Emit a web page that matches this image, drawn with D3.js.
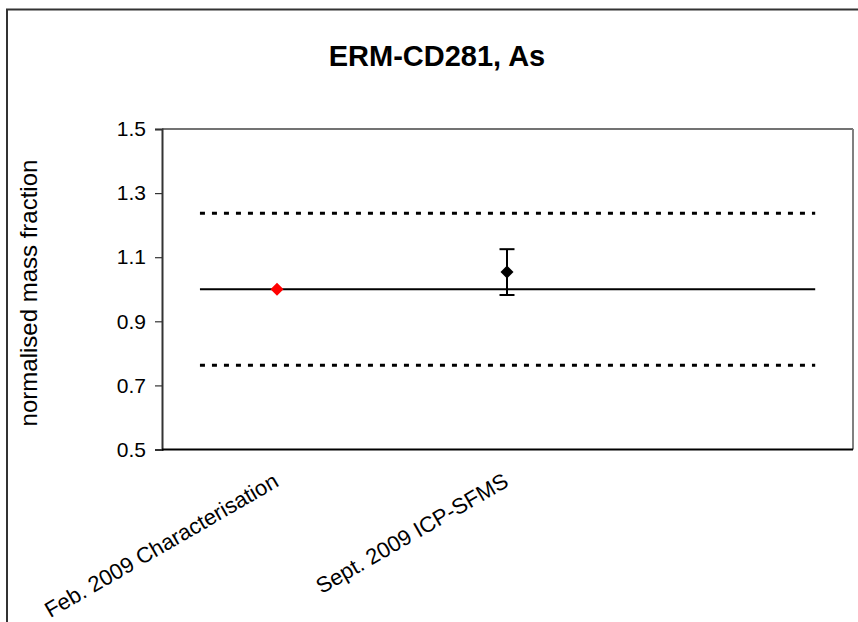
<!DOCTYPE html>
<head>
<meta charset="utf-8">

<!-- Load d3.js -->
<script src="https://d3js.org/d3.v7.min.js"></script>

<title>ERM-CD281, As</title>

<style>
  body { margin: 0; background: #fff; }
  text { font-family: "Liberation Sans", Arial, sans-serif; fill: #000; }
</style>
</head>

<body>
<div id="chart"></div>

<script>

// chart data
var title = "ERM-CD281, As";
var yLabel = "normalised mass fraction";
var categories = ["Feb. 2009 Characterisation", "Sept. 2009 ICP-SFMS", ""];
var values = [1.0, 1.054];
var errLow = [null, 0.982];
var errHigh = [null, 1.125];
var pointColors = ["#ff0000", "#000000"];
var certified = 1.0;
var uncertainty = 0.2375;
var lineSpan = [0.165, 2.84];   // reference lines run between these category positions
var yTicks = [0.5, 0.7, 0.9, 1.1, 1.3, 1.5];

// set the dimensions of the chart
var width = 858,
    height = 622;

var plot = {left: 162, top: 129, right: 852, bottom: 449.5};

var svg = d3.select("#chart")
    .append("svg")
    .attr("width", width)
    .attr("height", height);

// outer chart border, cut off at right and bottom
svg.append("rect")
    .attr("x", 7)
    .attr("y", 9.5)
    .attr("width", 880)
    .attr("height", 640)
    .attr("fill", "none")
    .attr("stroke", "#333")
    .attr("stroke-width", 2);

// scales
var x = d3.scaleLinear()
    .domain([0, categories.length])
    .range([plot.left, plot.right]);

var y = d3.scaleLinear()
    .domain([0.5, 1.5])
    .range([plot.bottom, plot.top]);

// plot area border
svg.append("line")
    .attr("x1", plot.left).attr("x2", plot.right + 1)
    .attr("y1", plot.top).attr("y2", plot.top)
    .attr("stroke", "#444").attr("stroke-width", 1.5);

svg.append("line")
    .attr("x1", plot.right + 1).attr("x2", plot.right + 1)
    .attr("y1", plot.top).attr("y2", plot.bottom)
    .attr("stroke", "#808080").attr("stroke-width", 2);

// title
svg.append("text")
    .attr("x", 437)
    .attr("y", 66)
    .attr("text-anchor", "middle")
    .attr("font-size", 29)
    .attr("font-weight", "bold")
    .text(title);

// y axis
var yAxis = svg.append("g")
    .attr("transform", "translate(" + plot.left + ",0)")
    .call(d3.axisLeft(y).tickValues(yTicks).tickFormat(d3.format(".1f")).tickSize(7).tickPadding(9));

yAxis.select(".domain").attr("stroke", "#333").attr("stroke-width", 2);
yAxis.selectAll(".tick line").attr("stroke", "#333").attr("stroke-width", 1.2);
yAxis.selectAll(".tick text")
    .attr("font-size", 21)
    .attr("font-family", "Liberation Sans, Arial, sans-serif")
    .attr("fill", "#000");

// x axis line
svg.append("line")
    .attr("x1", plot.left).attr("x2", plot.right + 1)
    .attr("y1", plot.bottom).attr("y2", plot.bottom)
    .attr("stroke", "#000").attr("stroke-width", 2);

// category labels, rotated
svg.selectAll(".catlabel")
    .data(categories)
    .enter()
    .append("text")
    .attr("class", "catlabel")
    .attr("text-anchor", "end")
    .attr("font-size", 22)
    .attr("transform", function(d, i) {
        return "translate(" + (x(i + 0.5) + 3) + "," + (plot.bottom + 36) + ") rotate(-30)";
    })
    .text(function(d) { return d; });

// y axis title
svg.append("text")
    .attr("text-anchor", "middle")
    .attr("font-size", 24)
    .attr("transform", "translate(37,293) rotate(-90)")
    .text(yLabel);

// certified value and uncertainty lines
var refLines = [
    {v: certified, dash: null, w: 2},
    {v: certified + uncertainty, dash: "5,7", w: 3},
    {v: certified - uncertainty, dash: "5,7", w: 3}
];

svg.selectAll(".refline")
    .data(refLines)
    .enter()
    .append("line")
    .attr("class", "refline")
    .attr("x1", x(lineSpan[0]))
    .attr("x2", x(lineSpan[1]))
    .attr("y1", function(d) { return y(d.v); })
    .attr("y2", function(d) { return y(d.v); })
    .attr("stroke", "#000")
    .attr("stroke-width", function(d) { return d.w; })
    .attr("stroke-dasharray", function(d) { return d.dash; });

// error bars
var points = values.map(function(v, i) {
    return {i: i, v: v, lo: errLow[i], hi: errHigh[i], color: pointColors[i]};
});

var bars = svg.selectAll(".errbar")
    .data(points.filter(function(d) { return d.lo != null; }))
    .enter()
    .append("g")
    .attr("class", "errbar")
    .attr("stroke", "#000")
    .attr("stroke-width", 2);

bars.append("line")
    .attr("x1", function(d) { return x(d.i + 0.5); })
    .attr("x2", function(d) { return x(d.i + 0.5); })
    .attr("y1", function(d) { return y(d.lo); })
    .attr("y2", function(d) { return y(d.hi); });

bars.selectAll(".cap")
    .data(function(d) { return [{i: d.i, v: d.lo}, {i: d.i, v: d.hi}]; })
    .enter()
    .append("line")
    .attr("class", "cap")
    .attr("x1", function(d) { return x(d.i + 0.5) - 7.5; })
    .attr("x2", function(d) { return x(d.i + 0.5) + 7.5; })
    .attr("y1", function(d) { return y(d.v); })
    .attr("y2", function(d) { return y(d.v); });

// diamond markers
var diamond = d3.symbol().type(d3.symbolDiamond2).size(108);

svg.selectAll(".point")
    .data(points)
    .enter()
    .append("path")
    .attr("class", "point")
    .attr("d", diamond)
    .attr("fill", function(d) { return d.color; })
    .attr("transform", function(d) {
        return "translate(" + x(d.i + 0.5) + "," + y(d.v) + ")";
    });

</script>
</body>
